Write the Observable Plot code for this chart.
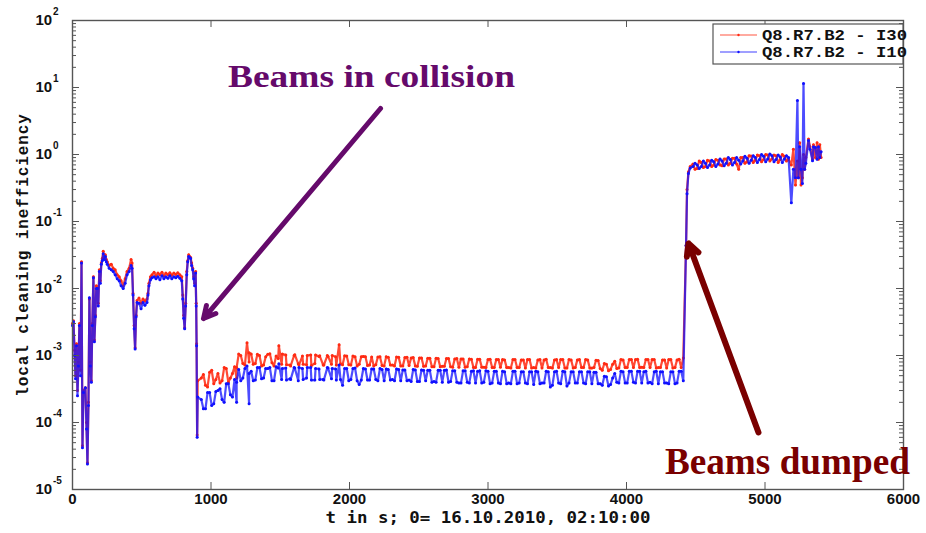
<!DOCTYPE html>
<html>
<head>
<meta charset="utf-8">
<script src="https://cdn.jsdelivr.net/npm/d3@7"></script>
<script src="https://cdn.jsdelivr.net/npm/@observablehq/plot@0.6"></script>
<style>
  html, body { margin: 0; padding: 0; background: #fff; }
  #chart { width: 926px; height: 533px; }
</style>
</head>
<body>
<div id="chart"></div>
<script>
// ---- data ----
const seriesNames = ["Q8.R7.B2 - I30", "Q8.R7.B2 - I10"];
const seriesColors = ["#ff2a12", "#1010ff"];

// main samples
const time = [
  0, 7, 15, 22, 29, 36, 43, 50, 58, 65, 72, 79, 93, 101, 108, 115, 122, 129, 136, 143,
  151, 158, 165, 172, 179, 186, 194, 201, 208, 215, 222, 229, 237, 244, 251, 265, 280, 294, 308, 323,
  337, 351, 366, 380, 394, 409, 423, 430, 437, 445, 452, 459, 466, 480, 495, 509, 523, 538, 545, 552,
  563, 574, 589, 603, 617, 631, 646, 660, 674, 689, 703, 717, 732, 746, 760, 775, 789, 796, 803, 810,
  817, 825, 832, 839, 846, 853, 860, 868, 875, 882, 889, 893, 896, 900, 904,
  930, 960, 990, 1020, 1050, 1080, 1110, 1140, 1170, 1185, 1200, 1230, 1260, 1275,
  1290, 1320, 1350, 1380, 1410, 1440, 1470, 1490, 1510, 1540, 1570, 1600, 1630, 1660, 1690, 1720,
  1750, 1780, 1810, 1840, 1870, 1900, 1925, 1950, 1980, 2010, 2040, 2070, 2100, 2130, 2160, 2190,
  2220, 2250, 2280, 2310, 2340, 2370, 2400, 2430, 2460, 2490, 2520, 2550, 2580, 2610, 2640, 2670,
  2700, 2730, 2760, 2790, 2820, 2850, 2880, 2910, 2940, 2970, 3000, 3030, 3060, 3090, 3120, 3150,
  3180, 3210, 3240, 3270, 3300, 3330, 3360, 3390, 3420, 3450, 3480, 3510, 3540, 3570, 3600, 3630,
  3660, 3690, 3720, 3750, 3780, 3810, 3840, 3870, 3900, 3930, 3960, 3990, 4020, 4050, 4080, 4110,
  4140, 4170, 4200, 4230, 4260, 4290, 4320, 4350, 4380, 4410,
  4430, 4437, 4447, 4460, 4480, 4510, 4540, 4570, 4600, 4630, 4660, 4690, 4720, 4750, 4780, 4810,
  4840, 4870, 4900, 4930, 4960, 4990, 5020, 5050, 5080, 5110, 5140, 5170, 5190, 5205, 5220, 5234,
  5241, 5250, 5260, 5270, 5278, 5286, 5295, 5314, 5325, 5343, 5350, 5364, 5376, 5386, 5396, 5405
];

const i30 = [
  3.0e-3, 3.3e-3, 1.2e-3, 5.0e-4, 1.5e-3, 3.0e-4, 8.0e-4, 3.0e-3, 6.0e-4, 2.5e-2, 4.5e-5, 3.0e-4, 3.3e-4, 1.0e-4, 2.5e-5, 2.0e-4, 7.0e-3, 8.0e-4, 4.2e-4, 3.0e-3,
  1.5e-2, 1.7e-3, 4.0e-3, 1.1e-2, 1.0e-2, 6.0e-3, 1.9e-2, 1.3e-2, 2.4e-2, 2.8e-2, 3.6e-2, 2.9e-2, 3.2e-2, 2.7e-2, 2.5e-2, 2.2e-2, 2.3e-2, 2.0e-2, 1.9e-2, 1.6e-2,
  1.5e-2, 1.3e-2, 1.1e-2, 1.4e-2, 1.8e-2, 2.0e-2, 2.7e-2, 2.4e-2, 8.4e-3, 2.8e-3, 1.3e-3, 4.0e-3, 6.6e-3, 7.2e-3, 6.0e-3, 7.0e-3, 6.5e-3, 7.0e-3, 8.5e-3, 1.2e-2,
  1.5e-2, 1.6e-2, 1.75e-2, 1.55e-2, 1.7e-2, 1.6e-2, 1.75e-2, 1.55e-2, 1.7e-2, 1.6e-2, 1.72e-2, 1.58e-2, 1.7e-2, 1.62e-2, 1.72e-2, 1.6e-2, 1.5e-2, 8.0e-3, 4.0e-3, 2.6e-3,
  6.0e-3, 1.8e-2, 2.6e-2, 3.2e-2, 3.0e-2, 2.9e-2, 2.4e-2, 2.0e-2, 1.5e-2, 1.2e-2, 1.8e-2, 6.0e-3, 1.5e-3, 6.5e-5, 4.2e-4,
  4.6e-4, 3.6e-4, 5.6e-4, 3.8e-4, 5.4e-4, 4.2e-4, 6.4e-4, 4.6e-4, 6.8e-4, 4.6e-4, 1.05e-3, 7.6e-4, 1.55e-3, 8.0e-4,
  1.05e-3, 7.6e-4, 1.0e-3, 7.2e-4, 1.04e-3, 7.8e-4, 9.8e-4, 1.4e-3, 7.4e-4, 1.02e-3, 7.2e-4, 1.0e-3, 7.5e-4, 9.8e-4, 7.3e-4, 1.02e-3,
  7.6e-4, 9.7e-4, 7.2e-4, 1.0e-3, 7.4e-4, 9.6e-4, 1.45e-3, 7.3e-4, 9.8e-4, 7.2e-4, 9.6e-4, 7.4e-4, 9.7e-4, 7.1e-4, 9.5e-4, 7.3e-4,
  9.6e-4, 7.0e-4, 9.4e-4, 7.2e-4, 9.5e-4, 7.0e-4, 9.3e-4, 7.1e-4, 9.3e-4, 6.9e-4, 9.2e-4, 7.0e-4, 9.1e-4, 6.8e-4, 9.0e-4, 6.9e-4,
  9.0e-4, 6.8e-4, 8.9e-4, 6.7e-4, 8.9e-4, 6.8e-4, 8.8e-4, 6.6e-4, 8.8e-4, 6.7e-4, 8.7e-4, 6.6e-4, 8.7e-4, 6.7e-4, 8.6e-4, 6.6e-4,
  8.7e-4, 6.6e-4, 8.6e-4, 6.5e-4, 8.7e-4, 6.6e-4, 8.6e-4, 6.5e-4, 8.8e-4, 6.6e-4, 8.6e-4, 6.6e-4, 8.7e-4, 6.5e-4, 8.6e-4, 6.6e-4,
  8.7e-4, 6.6e-4, 8.6e-4, 6.5e-4, 8.5e-4, 6.4e-4, 7.6e-4, 5.9e-4, 7.4e-4, 6.4e-4, 8.7e-4, 6.6e-4, 8.7e-4, 6.6e-4, 8.8e-4, 6.7e-4,
  8.7e-4, 6.6e-4, 8.7e-4, 6.6e-4, 8.6e-4, 6.5e-4, 8.7e-4, 6.6e-4, 8.8e-4, 9.2e-4,
  4.4e-2, 0.30, 0.55, 0.66, 0.72, 0.62, 0.76, 0.66, 0.80, 0.70, 0.82, 0.68, 0.86, 0.74, 0.88, 0.60,
  0.90, 0.78, 0.95, 0.82, 0.96, 0.84, 0.98, 0.86, 0.96, 0.84, 0.94, 0.86, 0.70, 1.2, 0.35, 0.8,
  0.45, 1.5, 0.35, 0.45, 1.0, 0.6, 0.9, 1.7, 1.3, 0.85, 1.4, 0.9, 1.5, 0.85, 1.4, 0.9
];

const i10 = [
  2.8e-3, 3.2e-3, 1.0e-3, 4.5e-4, 1.4e-3, 2.5e-4, 7.0e-4, 2.8e-3, 5.0e-4, 2.4e-2, 4.2e-5, 2.8e-4, 3.3e-4, 8.0e-5, 2.4e-5, 1.8e-4, 7.3e-3, 7.0e-4, 4.0e-4, 2.8e-3,
  1.45e-2, 1.6e-3, 3.8e-3, 1.0e-2, 1.0e-2, 5.5e-3, 1.8e-2, 1.2e-2, 2.3e-2, 2.6e-2, 3.3e-2, 2.7e-2, 3.0e-2, 2.5e-2, 2.3e-2, 2.0e-2, 1.9e-2, 1.8e-2, 1.6e-2, 1.4e-2,
  1.3e-2, 1.1e-2, 1.0e-2, 1.2e-2, 1.6e-2, 1.8e-2, 2.2e-2, 2.0e-2, 8.0e-3, 2.5e-3, 1.25e-3, 3.8e-3, 6.2e-3, 6.0e-3, 5.0e-3, 6.2e-3, 5.6e-3, 6.2e-3, 8.0e-3, 1.1e-2,
  1.35e-2, 1.45e-2, 1.5e-2, 1.4e-2, 1.5e-2, 1.35e-2, 1.55e-2, 1.4e-2, 1.5e-2, 1.42e-2, 1.55e-2, 1.4e-2, 1.5e-2, 1.45e-2, 1.52e-2, 1.42e-2, 1.3e-2, 7.0e-3, 3.6e-3, 2.5e-3,
  5.5e-3, 1.6e-2, 2.5e-2, 3.0e-2, 2.9e-2, 2.8e-2, 2.2e-2, 1.9e-2, 1.4e-2, 1.1e-2, 1.7e-2, 5.5e-3, 1.4e-3, 6.0e-5, 2.4e-4,
  2.2e-4, 1.6e-4, 2.8e-4, 1.9e-4, 3.0e-4, 2.2e-4, 3.8e-4, 2.6e-4, 4.4e-4, 2.0e-4, 6.2e-4, 4.6e-4, 7.0e-4, 1.9e-4,
  5.8e-4, 4.3e-4, 6.6e-4, 4.6e-4, 6.4e-4, 4.2e-4, 6.8e-4, 7.5e-4, 4.4e-4, 6.5e-4, 4.5e-4, 6.6e-4, 4.2e-4, 6.4e-4, 4.6e-4, 6.6e-4,
  4.3e-4, 6.3e-4, 4.4e-4, 6.6e-4, 4.5e-4, 6.3e-4, 7.2e-4, 3.6e-4, 6.4e-4, 4.4e-4, 6.5e-4, 3.7e-4, 6.4e-4, 4.3e-4, 6.3e-4, 4.4e-4,
  6.4e-4, 4.2e-4, 6.2e-4, 4.4e-4, 6.3e-4, 4.2e-4, 6.1e-4, 4.3e-4, 6.2e-4, 4.1e-4, 6.1e-4, 4.2e-4, 6.0e-4, 4.1e-4, 6.0e-4, 4.0e-4,
  6.1e-4, 4.1e-4, 5.9e-4, 3.9e-4, 5.9e-4, 4.0e-4, 5.8e-4, 3.9e-4, 5.9e-4, 4.0e-4, 5.8e-4, 3.9e-4, 5.8e-4, 3.8e-4, 5.7e-4, 3.9e-4,
  5.8e-4, 3.8e-4, 5.7e-4, 3.9e-4, 5.7e-4, 3.7e-4, 5.7e-4, 3.9e-4, 5.8e-4, 3.4e-4, 5.7e-4, 3.9e-4, 5.8e-4, 3.5e-4, 5.7e-4, 3.9e-4,
  5.7e-4, 3.9e-4, 5.7e-4, 3.8e-4, 5.6e-4, 3.8e-4, 4.9e-4, 3.5e-4, 4.6e-4, 4.0e-4, 5.8e-4, 3.9e-4, 5.8e-4, 4.0e-4, 5.8e-4, 3.9e-4,
  5.8e-4, 4.0e-4, 5.7e-4, 3.8e-4, 5.7e-4, 3.9e-4, 5.7e-4, 3.8e-4, 5.8e-4, 4.2e-4,
  4.4e-2, 0.26, 0.52, 0.63, 0.66, 0.70, 0.66, 0.74, 0.70, 0.78, 0.72, 0.80, 0.74, 0.84, 0.76, 0.82,
  0.80, 0.88, 0.82, 0.90, 0.84, 0.94, 0.86, 0.96, 0.84, 0.92, 0.86, 0.90, 0.19, 0.6, 0.45, 6.4,
  0.45, 1.3, 0.6, 0.37, 11.5, 0.6, 0.74, 1.62, 1.2, 0.81, 1.3, 1.27, 0.85, 1.3, 0.9, 1.1
];

// in-between samples of the noisy stretches
const timeB = [
  945, 975, 1005, 1035, 1065, 1095, 1125, 1155, 1185, 1215, 1245, 1275, 1305, 1335, 1365, 1395,
  1425, 1455, 1485, 1515, 1545, 1575, 1605, 1635, 1665, 1695, 1725, 1755, 1785, 1815, 1845, 1875,
  1905, 1935, 1965, 1995, 2025, 2055, 2085, 2115, 2145, 2175, 2205, 2235, 2265, 2295, 2325, 2355,
  2385, 2415, 2445, 2475, 2505, 2535, 2565, 2595, 2625, 2655, 2685, 2715, 2745, 2775, 2805, 2835,
  2865, 2895, 2925, 2955, 2985, 3015, 3045, 3075, 3105, 3135, 3165, 3195, 3225, 3255, 3285, 3315,
  3345, 3375, 3405, 3435, 3465, 3495, 3525, 3555, 3585, 3615, 3645, 3675, 3705, 3735, 3765, 3795,
  3825, 3855, 3885, 3915, 3945, 3975, 4005, 4035, 4065, 4095, 4125, 4155, 4185, 4215, 4245, 4275,
  4305, 4335, 4365, 4395,
  4495, 4525, 4555, 4585, 4615, 4645, 4675, 4705, 4735, 4765, 4795, 4825, 4855, 4885, 4915, 4945,
  4975, 5005, 5035, 5065, 5095, 5125, 5155
];
const i30B = [
  5.2e-4, 3.4e-4, 6.0e-4, 4.4e-4, 3.9e-4, 6.6e-4, 4.0e-4, 5.4e-4, 6.6e-4, 1.0e-3, 7.2e-4, 1.1e-3, 7.4e-4, 1.04e-3, 7.0e-4, 9.6e-4,
  1.06e-3, 7.0e-4, 9.0e-4, 1.05e-3, 7.3e-4, 7.0e-4, 1.03e-3, 7.2e-4, 7.4e-4, 1.0e-3, 7.1e-4, 1.02e-3, 9.9e-4, 7.2e-4, 9.7e-4, 1.0e-3,
  7.2e-4, 7.5e-4, 9.9e-4, 7.3e-4, 9.8e-4, 7.0e-4, 9.6e-4, 9.6e-4, 7.2e-4, 7.0e-4, 9.5e-4, 7.1e-4, 9.6e-4, 7.2e-4, 7.0e-4, 9.4e-4,
  7.0e-4, 9.4e-4, 9.2e-4, 7.0e-4, 9.2e-4, 6.9e-4, 9.1e-4, 6.8e-4, 9.1e-4, 6.8e-4, 6.9e-4, 9.0e-4, 6.7e-4, 9.0e-4, 8.9e-4, 6.7e-4,
  8.9e-4, 6.6e-4, 8.8e-4, 6.7e-4, 6.6e-4, 8.8e-4, 6.6e-4, 8.7e-4, 8.7e-4, 6.6e-4, 6.5e-4, 8.7e-4, 6.6e-4, 8.6e-4, 8.7e-4, 6.5e-4,
  6.5e-4, 8.7e-4, 8.6e-4, 6.6e-4, 6.5e-4, 8.7e-4, 8.7e-4, 6.5e-4, 8.7e-4, 6.5e-4, 8.6e-4, 6.6e-4, 8.7e-4, 6.5e-4, 6.6e-4, 8.4e-4,
  6.0e-4, 7.4e-4, 6.2e-4, 8.2e-4, 6.5e-4, 8.6e-4, 6.6e-4, 8.7e-4, 8.7e-4, 6.6e-4, 6.6e-4, 8.7e-4, 8.7e-4, 6.5e-4, 6.6e-4, 8.6e-4,
  8.7e-4, 6.5e-4, 8.6e-4, 6.6e-4,
  0.60, 0.80, 0.64, 0.82, 0.66, 0.84, 0.70, 0.86, 0.70, 0.88, 0.72, 0.90, 0.74, 0.96, 0.76, 0.98,
  0.78, 1.0, 0.80, 0.98, 0.76, 1.0, 0.80
];
const i10B = [
  1.6e-4, 2.8e-4, 1.8e-4, 2.9e-4, 3.2e-4, 2.0e-4, 3.8e-4, 2.4e-4, 4.0e-4, 4.2e-4, 6.4e-4, 5.4e-4, 4.2e-4, 6.6e-4, 4.5e-4, 6.4e-4,
  6.6e-4, 4.2e-4, 6.5e-4, 6.4e-4, 4.3e-4, 4.4e-4, 6.5e-4, 6.6e-4, 4.4e-4, 6.6e-4, 4.3e-4, 6.4e-4, 4.4e-4, 4.3e-4, 6.5e-4, 6.4e-4,
  4.3e-4, 4.4e-4, 6.4e-4, 4.2e-4, 6.4e-4, 4.2e-4, 4.3e-4, 6.3e-4, 4.3e-4, 6.3e-4, 4.2e-4, 6.2e-4, 6.3e-4, 4.3e-4, 4.2e-4, 6.2e-4,
  6.1e-4, 4.2e-4, 4.1e-4, 6.1e-4, 4.1e-4, 6.0e-4, 6.0e-4, 4.0e-4, 4.0e-4, 6.0e-4, 6.0e-4, 4.0e-4, 5.9e-4, 4.0e-4, 3.9e-4, 5.9e-4,
  3.9e-4, 5.9e-4, 5.8e-4, 3.9e-4, 5.9e-4, 3.8e-4, 5.8e-4, 3.9e-4, 5.8e-4, 3.8e-4, 3.8e-4, 5.8e-4, 3.9e-4, 5.7e-4, 3.8e-4, 5.7e-4,
  5.8e-4, 3.8e-4, 3.9e-4, 5.7e-4, 3.6e-4, 5.8e-4, 3.8e-4, 5.7e-4, 3.9e-4, 5.7e-4, 3.9e-4, 5.7e-4, 3.8e-4, 5.7e-4, 5.6e-4, 3.8e-4,
  3.6e-4, 4.8e-4, 3.7e-4, 5.4e-4, 3.9e-4, 5.7e-4, 3.9e-4, 5.8e-4, 3.9e-4, 5.8e-4, 5.7e-4, 3.9e-4, 3.8e-4, 5.8e-4, 5.7e-4, 3.9e-4,
  3.8e-4, 5.7e-4, 3.9e-4, 5.8e-4,
  0.74, 0.62, 0.80, 0.64, 0.82, 0.66, 0.86, 0.68, 0.90, 0.70, 0.90, 0.72, 0.94, 0.74, 0.96, 0.76,
  1.0, 0.78, 1.02, 0.78, 0.98, 0.76, 0.96
];

const xTickValues = [0, 1000, 2000, 3000, 4000, 5000, 6000];
const xTickLabels = ["0", "1000", "2000", "3000", "4000", "5000", "6000"];
const yTickValues = [1e-5, 1e-4, 1e-3, 1e-2, 1e-1, 1e0, 1e1, 1e2];
const yTickExponents = ["-5", "-4", "-3", "-2", "-1", "0", "1", "2"];
const xLabel = "t in s; 0= 16.10.2010, 02:10:00";
const yLabel = "local cleaning inefficiency";

// annotations (data coordinates: t, value)
const annotations = [
  {text: "Beams in collision", t: 2159, v: 10.3, color: "#650a6b", size: 32, len: 287,
   from: [2224, 4.86], to: [946, 3.56e-3], sw: 5},
  {text: "Beams dumped", t: 5162, v: 1.73e-5, color: "#7a0000", size: 38, len: 245,
   from: [4953, 7.1e-5], to: [4448, 0.047], sw: 6}
];

// ---- build ----
const byTime = (a, b) => a.t - b.t;
const rowsRed = time.map((t, i) => ({t, v: i30[i]}))
  .concat(timeB.map((t, i) => ({t, v: i30B[i]}))).sort(byTime);
const rowsBlue = time.map((t, i) => ({t, v: i10[i]}))
  .concat(timeB.map((t, i) => ({t, v: i10B[i]}))).sort(byTime);
const yMinor = [];
for (let k = -5; k < 2; k++) for (let m = 2; m <= 9; m++) yMinor.push(m * Math.pow(10, k));

const W = 926, H = 533, ML = 72, MR = 23, MT = 20, MB = 44;
const PW = W - ML - MR, PH = H - MT - MB;
const axisColor = "#555";
const sansBold = "'Liberation Sans', Arial, Helvetica, sans-serif";

const plot = Plot.plot({
  width: W, height: H,
  marginLeft: ML, marginRight: MR, marginTop: MT, marginBottom: MB,
  style: {background: "#fff", overflow: "visible"},
  x: {domain: [0, 6000], axis: null},
  y: {type: "log", domain: [1e-5, 1e2], axis: null},
  marks: [
    // data
    Plot.line(rowsRed, {x: "t", y: "v", stroke: seriesColors[0], strokeWidth: 2.2, strokeOpacity: 0.85}),
    Plot.dot(rowsRed, {x: "t", y: "v", r: 1.5, fill: seriesColors[0], stroke: null}),
    Plot.line(rowsBlue, {x: "t", y: "v", stroke: seriesColors[1], strokeWidth: 2.2, strokeOpacity: 0.75}),
    Plot.dot(rowsBlue, {x: "t", y: "v", r: 1.5, fill: seriesColors[1], stroke: null}),
    // frame and inward ticks
    Plot.frame({stroke: axisColor, strokeWidth: 1.4}),
    Plot.tickX(xTickValues, {x: d => d, insetTop: PH - 7, stroke: axisColor}),
    Plot.tickX(xTickValues, {x: d => d, insetBottom: PH - 7, stroke: axisColor}),
    Plot.tickY(yTickValues, {y: d => d, insetRight: PW - 7, stroke: axisColor}),
    Plot.tickY(yTickValues, {y: d => d, insetLeft: PW - 7, stroke: axisColor}),
    Plot.tickY(yMinor, {y: d => d, insetRight: PW - 4, stroke: axisColor}),
    Plot.tickY(yMinor, {y: d => d, insetLeft: PW - 4, stroke: axisColor}),
    // tick labels
    Plot.text(xTickValues, {x: d => d, text: (d, i) => xTickLabels[i], frameAnchor: "bottom", dy: 14,
      fontSize: 15, fontWeight: "bold", fontFamily: sansBold, fill: "#111"}),
    Plot.text(yTickValues, {y: d => d, text: () => "10", frameAnchor: "left", dx: -37, textAnchor: "start",
      fontSize: 15, fontWeight: "bold", fontFamily: sansBold, fill: "#111"}),
    Plot.text(yTickValues, {y: d => d, text: (d, i) => yTickExponents[i], frameAnchor: "left", dx: -19.5, dy: -9,
      textAnchor: "start", fontSize: 10, fontWeight: "bold", fontFamily: sansBold, fill: "#111"}),
    // axis titles
    Plot.text([xLabel], {text: d => d, frameAnchor: "bottom", dy: 33, fontSize: 15, fontWeight: "bold",
      fontFamily: "'DejaVu Sans Mono', monospace", fill: "#111"}),
    Plot.text([yLabel], {text: d => d, frameAnchor: "left", dx: -50, rotate: -90, textAnchor: "middle",
      fontSize: 16, fontWeight: "bold", fontFamily: "'Liberation Mono', 'Courier New', monospace", fill: "#111"}),
    // annotations
    Plot.arrow(annotations, {x1: d => d.from[0], y1: d => d.from[1], x2: d => d.to[0], y2: d => d.to[1],
      stroke: d => d.color, strokeWidth: d => d.sw, headLength: 20, headAngle: 55}),
    Plot.text(annotations, {x: "t", y: "v", text: "text", fill: d => d.color, fontSize: d => d.size,
      fontWeight: "bold", fontFamily: "'Liberation Serif', 'Times New Roman', serif", lineAnchor: "bottom"})
  ]
});

const svg = d3.select(plot);
svg.selectAll("g[aria-label='arrow'] path").each(function(d, i) {
  d3.select(this).attr("stroke", annotations[i].color).attr("stroke-width", annotations[i].sw);
});
svg.selectAll("g[aria-label='text'] text").each(function() {
  const el = d3.select(this);
  const t = el.text();
  if (t === xLabel) el.attr("textLength", 325).attr("lengthAdjust", "spacingAndGlyphs");
  if (t === yLabel) el.style("letter-spacing", "0.9px");
  annotations.forEach(a => {
    if (t === a.text) el.attr("textLength", a.len).attr("lengthAdjust", "spacingAndGlyphs")
      .attr("fill", a.color).attr("font-size", a.size);
  });
});

// legend
const lg = svg.append("g").attr("font-family", "'Liberation Mono', 'Courier New', monospace")
  .attr("font-weight", "bold").attr("font-size", 15).attr("text-anchor", "start");
lg.append("rect").attr("x", 713).attr("y", 24).attr("width", 190).attr("height", 40)
  .attr("fill", "#fff").attr("stroke", axisColor).attr("stroke-width", 1.2);
seriesNames.forEach((name, i) => {
  const y = 35 + i * 17;
  lg.append("line").attr("x1", 720).attr("x2", 757).attr("y1", y).attr("y2", y)
    .attr("stroke", seriesColors[i]).attr("stroke-width", 1).attr("stroke-opacity", 0.8);
  lg.append("circle").attr("cx", 738.5).attr("cy", y).attr("r", 1.2).attr("fill", seriesColors[i]);
  lg.append("text").attr("x", 762).attr("y", y + 5).attr("fill", "#111").attr("text-anchor", "start")
    .attr("textLength", 145).attr("lengthAdjust", "spacingAndGlyphs").text(name);
});

document.getElementById("chart").appendChild(plot);
</script>
</body>
</html>
